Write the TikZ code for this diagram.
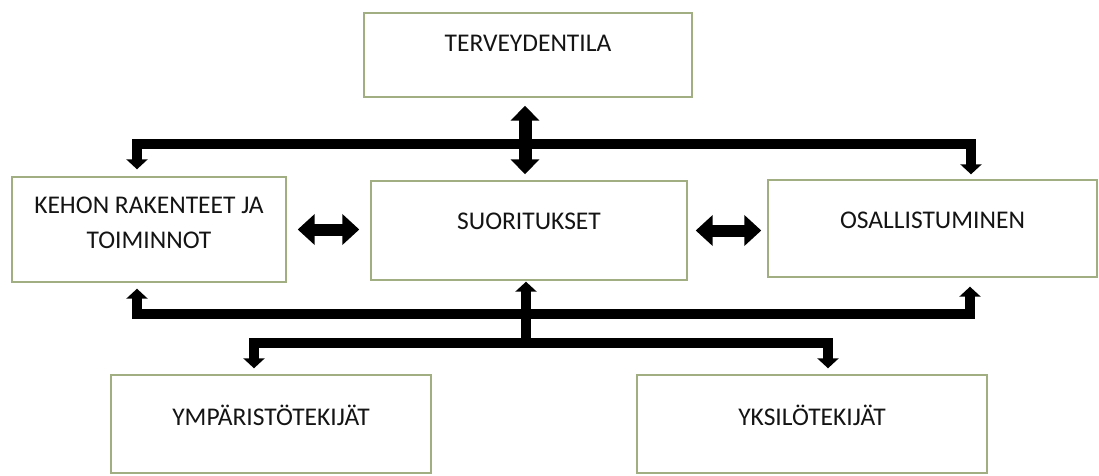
\documentclass[tikz,border=0pt]{standalone}
\usepackage{fontspec}
\setmainfont{Carlito}
\usetikzlibrary{arrows.meta}
\definecolor{boxline}{RGB}{160,174,130}
\definecolor{txt}{RGB}{20,20,20}
\newcommand{\bxt}[4]{\parbox[c][#2][t]{#1}{\centering\fontsize{25.5pt}{30pt}\selectfont\rule{0pt}{#3}#4\par}}
\tikzset{
  box/.style={draw=boxline, line width=1.4pt, fill=white, inner sep=0pt, text=txt},
  conn/.style={line width=10pt, black, {Triangle[length=10pt,width=21pt]}-{Triangle[length=10pt,width=21pt]}},
  connone/.style={line width=10pt, black, -{Triangle[length=10pt,width=21pt]}},
  blockv/.style={line width=13pt, black, {Triangle[length=15pt,width=28pt]}-{Triangle[length=15pt,width=28pt]}},
  blockh/.style={line width=12pt, black, {Triangle[length=17pt,width=30pt]}-{Triangle[length=17pt,width=30pt]}}
}
\begin{document}
\begin{tikzpicture}[x=1pt,y=1pt]
\fill[white] (0,0) rectangle (1099,475);
\useasboundingbox (0,0) rectangle (1099,475);

\node[box] (terv) at (528,420) {\bxt{328pt}{84pt}{39pt}{TERVEYDENTILA}};
\node[box] (kehon) at (149,245.5) {\bxt{274pt}{105pt}{36pt}{KEHON RAKENTEET JA\\[5pt]TOIMINNOT}};
\node[box] (suor) at (529,244.5) {\bxt{316pt}{99pt}{48pt}{SUORITUKSET}};
\node[box] (osall) at (932.5,246.5) {\bxt{329pt}{97pt}{48pt}{OSALLISTUMINEN}};
\node[box] (ymp) at (271,51) {\bxt{320pt}{98pt}{50pt}{YMPÄRISTÖTEKIJÄT}};
\node[box] (yksi) at (812,51) {\bxt{350pt}{98pt}{50pt}{YKSILÖTEKIJÄT}};

% junction coordinates
\coordinate (tl) at (137,331);
\coordinate (tr) at (971,331);
\coordinate (vx) at (525,331);
\coordinate (bl) at (137,161);
\coordinate (br) at (970,161);
\coordinate (mj) at (526,132);
\coordinate (ll) at (254,132);
\coordinate (lr) at (828,132);

% upper connector
\draw[conn, shorten <=7pt, shorten >=5pt] (tl |- kehon.north) -- (tl) -- (tr) -- (tr |- osall.north);
% TERVEYDENTILA <-> SUORITUKSET
\draw[blockv, shorten <=8pt, shorten >=6pt] (vx |- terv.south) -- (vx |- suor.north);
% horizontal double arrows
\draw[blockh, shorten <=11pt, shorten >=11pt] (kehon.east) -- (kehon.east -| suor.west);
\draw[blockh, shorten <=8pt, shorten >=6pt] (suor.east) -- (suor.east -| osall.west);
% lower connector
\draw[conn, shorten <=6pt, shorten >=9pt] (bl |- kehon.south) -- (bl) -- (br) -- (br |- osall.south);
\draw[connone, shorten >=1pt] (mj) -- (mj |- suor.south);
\draw[conn, shorten <=6pt, shorten >=6pt] (ll |- ymp.north) -- (ll) -- (lr) -- (lr |- yksi.north);
\end{tikzpicture}
\end{document}
